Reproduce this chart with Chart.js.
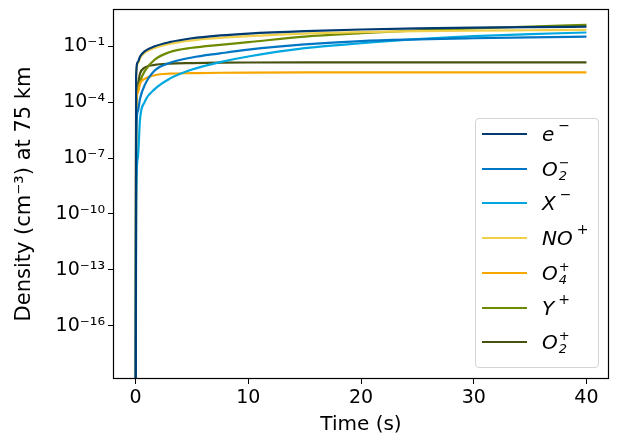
<!DOCTYPE html>
<html>
<head>
<meta charset="utf-8">
<script src="https://cdn.jsdelivr.net/npm/chart.js@4"></script>
<style>
  body { margin: 0; background: #fff; }
  #wrap { position: relative; width: 619px; height: 444px; }
  #legend {
    position: absolute; left: 475px; top: 118px; width: 122px; height: 248px;
    border: 1px solid #d4d4d4; border-radius: 4px; background: rgba(255,255,255,0.8);
    font-family: 'DejaVu Sans', sans-serif; font-style: italic; font-size: 20px; color: #000;
  }
  .row { position: absolute; left: 0; width: 122px; height: 30px; }
  .row .ln { position: absolute; left: 6px; width: 45px; height: 2px; top: 14px; }
  .row .tx { position: absolute; left: 66px; top: 0; height: 30px; display: flex; align-items: center; white-space: nowrap; line-height: 20px; }
  .ss { display: inline-flex; flex-direction: column; font-size: 13px; line-height: 13px; margin-left: 1px; }
  .sp { font-size: 14px; line-height: 14px; margin-left: 4px; font-style: normal; position: relative; top: -9px; }
</style>
</head>
<body>
<div id="wrap">
  <canvas id="densChart" width="619" height="444"></canvas>
  <div id="legend"></div>
</div>
<script>
// time (s)
const times = [0, 0.05, 0.2, 0.4, 0.8, 1.7, 3, 5, 7.5, 10, 15, 20, 25, 30, 35, 40];

// densities (cm^-3); first point is ~0 at t=0
const electrons = [1e-30, 2.5e-3, 1.41e-2, 2.82e-2, 5.37e-2, 0.1, 0.166, 0.269, 0.38, 0.479, 0.646, 0.794, 0.912, 1.0, 1.07, 1.12];
const o2Minus   = [1e-30, 1e-6, 3.16e-5, 1.58e-4, 7.94e-4, 5.0e-3, 1.26e-2, 2.51e-2, 4.17e-2, 6.61e-2, 0.126, 0.191, 0.234, 0.269, 0.302, 0.331];
const xMinus    = [1e-30, 3.2e-10, 1e-7, 1.26e-5, 1e-4, 5.0e-4, 1.78e-3, 5.62e-3, 1.41e-2, 2.82e-2, 7.94e-2, 0.145, 0.24, 0.347, 0.447, 0.55];
const noPlus    = [1e-30, 2.0e-3, 1.17e-2, 2.34e-2, 4.37e-2, 8.13e-2, 0.135, 0.209, 0.282, 0.347, 0.479, 0.575, 0.646, 0.692, 0.724, 0.759];
const o4Plus    = [1e-30, 3.2e-5, 3.2e-4, 1e-3, 1.78e-3, 2.8e-3, 3.4e-3, 3.6e-3, 3.8e-3, 3.9e-3, 4.0e-3, 4.0e-3, 4.0e-3, 4.0e-3, 4.0e-3, 4.0e-3];
const yPlus     = [1e-30, 1e-5, 4.0e-4, 1.26e-3, 4.47e-3, 1.91e-2, 4.79e-2, 8.32e-2, 0.12, 0.166, 0.331, 0.501, 0.708, 0.912, 1.15, 1.41];
const o2Plus    = [1e-30, 1e-4, 1e-3, 3.5e-3, 7.1e-3, 1.0e-2, 1.17e-2, 1.26e-2, 1.32e-2, 1.35e-2, 1.38e-2, 1.38e-2, 1.38e-2, 1.38e-2, 1.38e-2, 1.38e-2];

const seriesNames = ['e-', 'O2-', 'X-', 'NO+', 'O4+', 'Y+', 'O2+'];
const seriesData = [electrons, o2Minus, xMinus, noPlus, o4Plus, yPlus, o2Plus];
const colors = ['#003a70', '#0076c4', '#00a8df', '#f0d04a', '#f7a600', '#6e8a00', '#475211'];
// legend labels: base letter(s), subscript, superscript
const legendParts = [
  ['e', '', '\u2212'], ['O', '2', '\u2212'], ['X', '', '\u2212'], ['NO', '', '+'],
  ['O', '4', '+'], ['Y', '', '+'], ['O', '2', '+']
];

const xTicks = [0, 10, 20, 30, 40];
const yTicks = [1e-16, 1e-13, 1e-10, 1e-7, 1e-4, 1e-1];

const supMap = { '-': '\u207b', '0': '\u2070', '1': '\u00b9', '2': '\u00b2', '3': '\u00b3', '4': '\u2074', '5': '\u2075', '6': '\u2076', '7': '\u2077', '8': '\u2078', '9': '\u2079' };
function powLabel(v) {
  const e = Math.round(Math.log10(v)).toString();
  return '10' + e.split('').map(c => supMap[c]).join('');
}

// full box round the plot area, like the matplotlib spines
const frame = {
  id: 'frame',
  afterDatasetsDraw(c) {
    const a = c.chartArea, ctx = c.ctx;
    ctx.save();
    ctx.strokeStyle = '#000';
    ctx.lineWidth = 1.2;
    ctx.strokeRect(a.left + 0.5, a.top + 0.5, a.right - a.left - 1, a.bottom - a.top - 1);
    ctx.restore();
  }
};

const font = 'DejaVu Sans';
const ctx = document.getElementById('densChart').getContext('2d');
const chart = new Chart(ctx, {
  type: 'line',
  data: {
    datasets: seriesNames.map((name, i) => ({
      label: name,
      data: times.map((t, j) => ({ x: t, y: seriesData[i][j] })),
      borderColor: colors[i],
      backgroundColor: colors[i],
      borderWidth: 2.2,
      pointRadius: 0,
      fill: false,
      cubicInterpolationMode: 'monotone'
    }))
  },
  plugins: [frame],
  options: {
    responsive: false,
    animation: false,
    layout: { autoPadding: false, padding: { top: 9, right: 10, left: 0, bottom: 0 } },
    plugins: { legend: { display: false }, tooltip: { enabled: false } },
    scales: {
      x: {
        type: 'linear',
        min: -2,
        max: 42,
        afterBuildTicks: s => { s.ticks = xTicks.map(v => ({ value: v })); },
        afterFit: s => { s.height = 65; s.paddingLeft = 0; s.paddingRight = 0; },
        grid: { drawOnChartArea: false, tickLength: 5, color: '#000' },
        border: { display: false },
        ticks: { color: '#000', padding: 3, font: { family: font, size: 19 }, maxRotation: 0 },
        title: { display: true, text: 'Time (s)', color: '#000', font: { family: font, size: 20 }, padding: { top: 0, bottom: 7 } }
      },
      y: {
        type: 'logarithmic',
        min: 1.4e-19,
        max: 10,
        afterBuildTicks: s => { s.ticks = yTicks.map(v => ({ value: v })); },
        afterFit: s => { s.width = 113; s.paddingTop = 0; s.paddingBottom = 0; },
        grid: { drawOnChartArea: false, tickLength: 5, color: '#000' },
        border: { display: false },
        ticks: { color: '#000', padding: 3, font: { family: font, size: 19 }, callback: v => powLabel(v) },
        title: { display: true, text: 'Density (cm\u207b\u00b3) at 75 km', color: '#000', font: { family: font, size: 21 }, padding: { top: 12, bottom: 0 } }
      }
    }
  }
});

// legend drawn as html so the labels can keep their sub/superscripts
const legend = document.getElementById('legend');
legendParts.forEach((p, i) => {
  const row = document.createElement('div');
  row.className = 'row';
  row.style.top = (i * 34.7) + 'px';
  const ln = document.createElement('div');
  ln.className = 'ln';
  ln.style.background = colors[i];
  const tx = document.createElement('div');
  tx.className = 'tx';
  tx.innerHTML = '<span>' + p[0] + '</span>' + (p[1]
    ? '<span class="ss"><span>' + p[2] + '</span><span>' + p[1] + '</span></span>'
    : '<span class="sp">' + p[2] + '</span>');
  row.appendChild(ln);
  row.appendChild(tx);
  legend.appendChild(row);
});
</script>
</body>
</html>
